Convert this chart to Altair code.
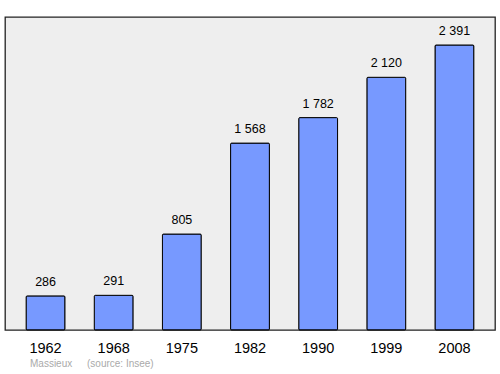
import altair as alt
import pandas as pd

years = ["1962", "1968", "1975", "1982", "1990", "1999", "2008"]
population = [286, 291, 805, 1568, 1782, 2120, 2391]
labels = ["286", "291", "805", "1 568", "1 782", "2 120", "2 391"]
footer_place = "Massieux"
footer_source = "(source: Insee)"

df = pd.DataFrame({"year": years, "pop": population, "label": labels})

x = alt.X("year:N", sort=years,
          scale=alt.Scale(paddingInner=0.43, paddingOuter=0.31),
          axis=alt.Axis(title=None, labelAngle=0, ticks=False, domain=False,
                        labelFontSize=14.5, labelColor="black", labelPadding=11,
                        labelFont="Liberation Sans"))
y = alt.Y("pop:Q", scale=alt.Scale(domain=[0, 2626], nice=False, zero=True),
          axis=None)

bars = alt.Chart(df).mark_bar(color="#7799ff", stroke="black", strokeWidth=1,
                              cornerRadius=1).encode(x=x, y=y)
texts = alt.Chart(df).mark_text(dy=-14, fontSize=12.5, font="Liberation Sans",
                                color="black").encode(x=x, y=y, text="label:N")

fdf = pd.DataFrame({"t": [footer_place]})
f1 = alt.Chart(fdf).mark_text(align="left", baseline="middle", fontSize=10,
                              font="Liberation Sans", color="#aaaaaa").encode(
    x=alt.value(25), y=alt.value(347), text="t:N")
fdf2 = pd.DataFrame({"t": [footer_source]})
f2 = alt.Chart(fdf2).mark_text(align="left", baseline="middle", fontSize=10,
                               font="Liberation Sans", color="#aaaaaa").encode(
    x=alt.value(82), y=alt.value(347), text="t:N")

chart = alt.layer(bars, texts, f1, f2).properties(
    width=490, height=313,
    autosize=alt.AutoSizeParams(type="none"),
    padding={"left": 5, "top": 17, "right": 5, "bottom": 44},
    background="white",
).configure_view(fill="#eeeeee", stroke="#222222", strokeWidth=1.3)

chart.save("out.html", embed_options={"renderer": "svg", "actions": False})
